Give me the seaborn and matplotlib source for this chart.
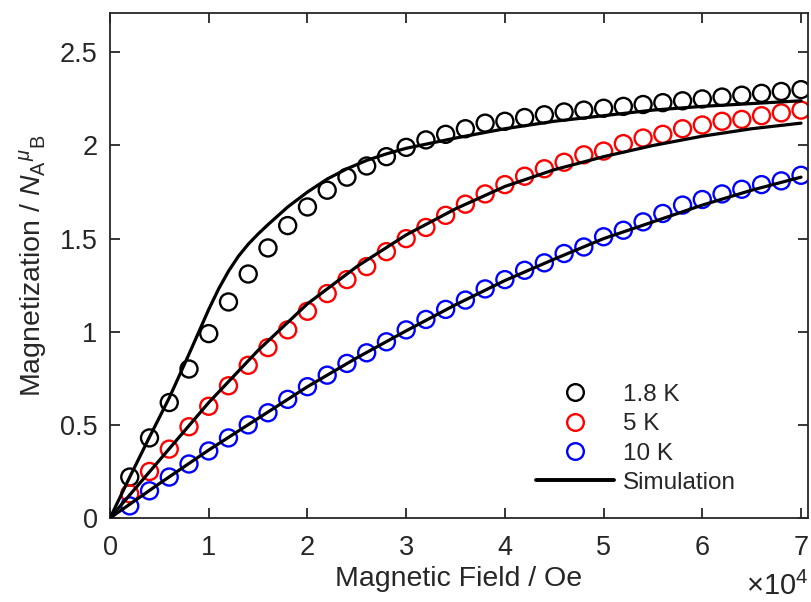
import numpy as np
import pandas as pd
import matplotlib
matplotlib.use("Agg")
import matplotlib.pyplot as plt
from matplotlib.lines import Line2D
import seaborn as sns

# Measured field points (Oe)
field = [2000 * i for i in range(1, 36)]

m_1p8K = [0.22, 0.43, 0.62, 0.80, 0.99, 1.16, 1.31, 1.45, 1.57, 1.67,
          1.76, 1.83, 1.89, 1.94, 1.99, 2.03, 2.06, 2.09, 2.12, 2.13,
          2.15, 2.165, 2.18, 2.19, 2.20, 2.21, 2.22, 2.23, 2.24, 2.25,
          2.26, 2.27, 2.28, 2.29, 2.30]
m_5K = [0.13, 0.25, 0.37, 0.49, 0.60, 0.71, 0.82, 0.915, 1.01, 1.11,
        1.205, 1.28, 1.35, 1.43, 1.50, 1.56, 1.625, 1.685, 1.74, 1.79,
        1.835, 1.875, 1.91, 1.95, 1.97, 2.01, 2.04, 2.06, 2.09, 2.11,
        2.13, 2.14, 2.16, 2.175, 2.19]
m_10K = [0.065, 0.146, 0.22, 0.29, 0.36, 0.43, 0.50, 0.565, 0.637, 0.705,
         0.767, 0.83, 0.887, 0.946, 1.01, 1.066, 1.12, 1.17, 1.23, 1.28,
         1.33, 1.37, 1.42, 1.455, 1.51, 1.545, 1.59, 1.635, 1.68, 1.71,
         1.74, 1.765, 1.79, 1.81, 1.84]

# Simulated curves
sim_field_1p8K = [0, 2000, 4000, 6000, 8000, 10000, 11000, 12000, 13000,
                  14000, 15000, 16000, 18000, 20000, 22000, 24000, 26000,
                  28000, 30000, 35000, 40000, 45000, 50000, 55000, 60000,
                  65000, 70000]
sim_1p8K = [0, 0.22, 0.435, 0.645, 0.88, 1.12, 1.23, 1.325, 1.405,
            1.47, 1.525, 1.575, 1.67, 1.75, 1.82, 1.875, 1.92, 1.955,
            1.985, 2.04, 2.09, 2.13, 2.16, 2.19, 2.21, 2.225, 2.24]
sim_field = [0, 5000, 10000, 15000, 20000, 25000, 30000, 35000, 40000,
             45000, 50000, 55000, 60000, 65000, 70000]
sim_5K = [0, 0.31, 0.62, 0.90, 1.15, 1.35, 1.52, 1.66, 1.78, 1.87, 1.94,
          2.00, 2.05, 2.09, 2.12]
sim_10K = [0, 0.185, 0.365, 0.535, 0.705, 0.86, 1.005, 1.145, 1.275, 1.39,
           1.50, 1.59, 1.68, 1.76, 1.83]

labels = ["1.8 K", "5 K", "10 K"]
colors = ["#000000", "#ff0000", "#0000ff"]
ink = "#262626"

sns.set_style("ticks")
plt.rcParams["font.family"] = ["Liberation Sans", "DejaVu Sans"]
plt.rcParams["mathtext.fontset"] = "custom"
plt.rcParams["mathtext.rm"] = "Liberation Sans"
plt.rcParams["mathtext.it"] = "Liberation Sans:italic"

fig = plt.figure(figsize=(8.12, 6.02), dpi=100)
ax = fig.add_axes([0.1355, 0.1395, 0.8595, 0.8385])

meas = pd.DataFrame({"field": field * 3,
                     "M": m_1p8K + m_5K + m_10K,
                     "T": sum([[l] * len(field) for l in labels], [])})

for lab, col in zip(labels, colors):
    sub = meas[meas["T"] == lab]
    sns.scatterplot(data=sub, x="field", y="M", ax=ax, marker="o", s=150,
                    facecolor="none", edgecolor=col, linewidth=1.7,
                    legend=False, zorder=2)

sims = [(sim_field_1p8K, sim_1p8K), (sim_field, sim_5K), (sim_field, sim_10K)]
for fx, fy in sims:
    sns.lineplot(x=fx, y=fy, ax=ax, color="black", linewidth=2.3,
                 sort=False, estimator=None, zorder=3)

ax.set_xlim(0, 70700)
ax.set_ylim(0, 2.71)
xt = list(range(0, 70001, 10000))
ax.set_xticks(xt)
ax.set_xticklabels([str(v // 10000) for v in xt])
ax.set_yticks([0, 0.5, 1, 1.5, 2, 2.5])
ax.set_yticklabels(["0", "0.5", "1", "1.5", "2", "2.5"])

for s in ax.spines.values():
    s.set_visible(True)
    s.set_linewidth(1.3)
    s.set_color(ink)
ax.tick_params(direction="in", top=True, right=True, length=7, width=1.3,
               labelsize=19.5, color=ink, labelcolor=ink)
ax.tick_params(axis="x", pad=12)
ax.tick_params(axis="y", pad=9)

ax.set_xlabel("Magnetic Field / Oe", fontsize=20.5, color=ink, labelpad=4)
ax.set_ylabel(r"Magnetization / $N_\mathrm{A}{}^{\mu}{}_\mathrm{B}$",
              fontsize=20.5, color=ink, labelpad=8)

# scale factor for the field axis
fig.text(808 / 812, 1 / 602, r"$\times10^{4}$", ha="right", va="bottom",
         fontsize=21, color=ink)

handles = [Line2D([], [], marker="o", linestyle="none", markersize=12,
                  markerfacecolor="none", markeredgecolor=c,
                  markeredgewidth=1.7) for c in colors]
handles.append(Line2D([], [], color="black", linewidth=2.8))
ax.legend(handles, labels + ["Simulation"], loc="upper left",
          bbox_to_anchor=(0.597, 0.285), borderaxespad=0, frameon=False,
          fontsize=17.5, handlelength=3.2, handletextpad=0.35,
          labelspacing=0.3)

fig.savefig("out.png", dpi=100)
